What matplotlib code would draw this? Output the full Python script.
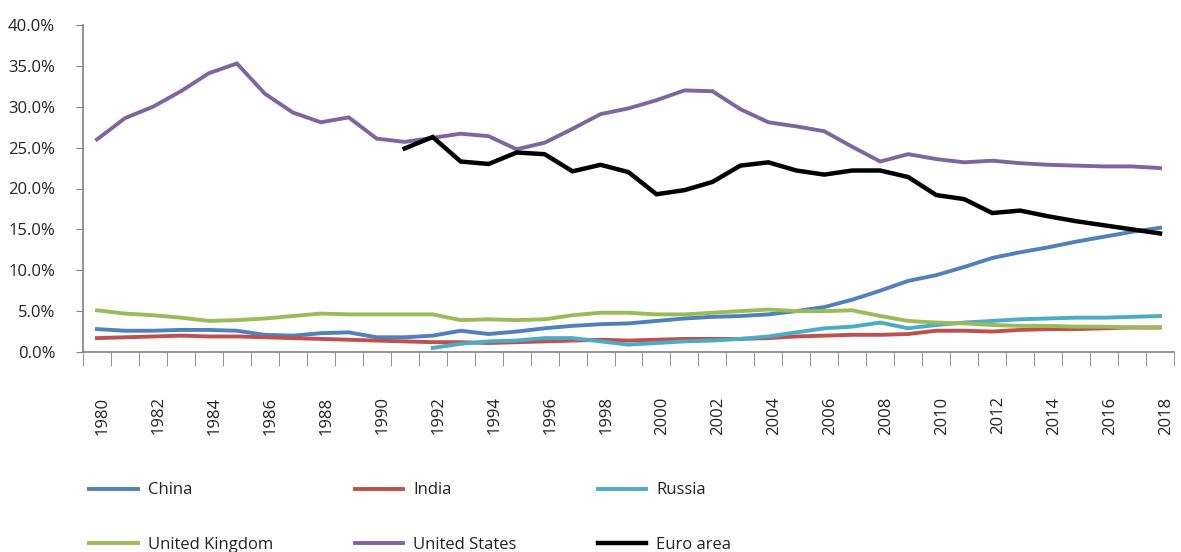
import numpy as np
import matplotlib
matplotlib.use("Agg")
import matplotlib.pyplot as plt
import matplotlib.transforms as mtransforms

plt.rcParams["font.family"] = ["Open Sans", "DejaVu Sans"]

# Data (share of world GDP, %)
years = list(range(1980, 2019))

china = [2.8, 2.6, 2.6, 2.7, 2.7, 2.6, 2.1, 2.0, 2.3, 2.4, 1.8, 1.8, 2.0, 2.6, 2.2,
         2.5, 2.9, 3.2, 3.4, 3.5, 3.8, 4.1, 4.3, 4.4, 4.6, 5.0, 5.5, 6.4, 7.5, 8.7,
         9.4, 10.4, 11.5, 12.2, 12.8, 13.5, 14.1, 14.7, 15.2]
india = [1.7, 1.8, 1.9, 2.0, 1.9, 1.9, 1.8, 1.7, 1.6, 1.5, 1.4, 1.3, 1.2, 1.2, 1.1,
         1.2, 1.3, 1.4, 1.5, 1.4, 1.5, 1.6, 1.6, 1.6, 1.7, 1.9, 2.0, 2.1, 2.1, 2.2,
         2.6, 2.6, 2.5, 2.7, 2.8, 2.8, 2.9, 3.0, 3.0]
russia = [None] * 12 + [0.5, 1.0, 1.3,
          1.4, 1.7, 1.7, 1.3, 0.9, 1.1, 1.3, 1.4, 1.6, 1.9, 2.4, 2.9, 3.1, 3.6, 2.9,
          3.3, 3.6, 3.8, 4.0, 4.1, 4.2, 4.2, 4.3, 4.4]
uk = [5.1, 4.7, 4.5, 4.2, 3.8, 3.9, 4.1, 4.4, 4.7, 4.6, 4.6, 4.6, 4.6, 3.9, 4.0,
      3.9, 4.0, 4.5, 4.8, 4.8, 4.6, 4.6, 4.8, 5.0, 5.2, 5.0, 5.0, 5.1, 4.4, 3.8,
      3.6, 3.5, 3.3, 3.2, 3.2, 3.1, 3.1, 3.0, 3.0]
us = [26.0, 28.6, 30.0, 31.9, 34.1, 35.3, 31.6, 29.3, 28.1, 28.7, 26.1, 25.7, 26.2, 26.7, 26.4,
      24.8, 25.6, 27.3, 29.1, 29.8, 30.8, 32.0, 31.9, 29.7, 28.1, 27.6, 27.0, 25.1, 23.3, 24.2,
      23.6, 23.2, 23.4, 23.1, 22.9, 22.8, 22.7, 22.7, 22.5]
euro = [None] * 11 + [24.9, 26.3, 23.3, 23.0,
        24.4, 24.2, 22.1, 22.9, 22.0, 19.3, 19.8, 20.8, 22.8, 23.2, 22.2, 21.7, 22.2, 22.2, 21.4,
        19.2, 18.7, 17.0, 17.3, 16.6, 16.0, 15.5, 15.0, 14.5]

names = ["China", "India", "Russia", "United Kingdom", "United States", "Euro area"]
series = [china, india, russia, uk, us, euro]
colors = ["#4F81BD", "#C0504D", "#4BACC6", "#9BBB59", "#8064A2", "#000000"]

fig = plt.figure(figsize=(11.81, 5.52), dpi=100)
ax = fig.add_axes([83 / 1181, 1 - 352 / 552, (1174 - 83) / 1181, (352 - 25) / 552])

x = np.arange(len(years))
lines = {}
for name, vals, col in zip(names, series, colors):
    v = np.array([np.nan if a is None else a for a in vals], dtype=float)
    lw = 3.2 if name == "Euro area" else 2.8
    ln, = ax.plot(x, v, color=col, lw=lw, solid_joinstyle="miter", label=name)
    lines[name] = ln

ax.set_xlim(-0.5, len(years) - 0.5)
ax.set_ylim(0, 40)
ax.set_yticks(np.arange(0, 41, 5))
ax.set_yticklabels([f"{t:.1f}%" for t in np.arange(0, 41, 5)])

ax.set_xticks(np.arange(-0.5, len(years), 1), minor=True)
ax.set_xticks(x[::2])
ax.set_xticklabels([str(y) for y in years[::2]], rotation=90)
ax.tick_params(axis="x", which="major", length=0, pad=32, labelsize=12, labelcolor="#222222")
ax.tick_params(axis="x", which="minor", length=10, color="#808080", direction="out")
ax.tick_params(axis="y", length=5, color="#808080", pad=15, labelsize=12, labelcolor="#222222")

offset = mtransforms.ScaledTranslation(6 / 100, 0, fig.dpi_scale_trans)
for lab in ax.get_xticklabels():
    lab.set_transform(lab.get_transform() + offset)

for s in ["top", "right"]:
    ax.spines[s].set_visible(False)
for s in ["left", "bottom"]:
    ax.spines[s].set_color("#808080")
    ax.spines[s].set_linewidth(1.2)

order = ["China", "United Kingdom", "India", "United States", "Russia", "Euro area"]
leg = fig.legend([lines[n] for n in order], order, loc="upper left",
                 bbox_to_anchor=(81 / 1181, 1 - 474 / 552), ncol=3, frameon=False,
                 fontsize=12, handlelength=2.9, handletextpad=0.6, columnspacing=4.9,
                 labelspacing=2.3, borderpad=0)
for t in leg.get_texts():
    t.set_color("#222222")

fig.savefig("out.png", dpi=100)
